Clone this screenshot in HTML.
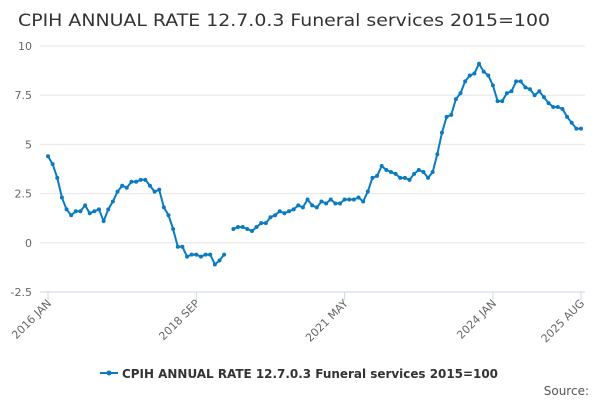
<!DOCTYPE html>
<html><head><meta charset="utf-8"><style>
body{margin:0;background:#fff;font-family:"DejaVu Sans","Liberation Sans",sans-serif;}
</style></head><body>
<svg width="600" height="400" xmlns="http://www.w3.org/2000/svg" font-family="DejaVu Sans, Liberation Sans, sans-serif">
<text x="18" y="26" font-size="17" fill="#333" textLength="532" lengthAdjust="spacingAndGlyphs">CPIH ANNUAL RATE 12.7.0.3 Funeral services 2015=100</text>
<g id="grid"></g><g id="xaxis"></g><g id="series"></g>
<g>
<line x1="100" y1="373" x2="118" y2="373" stroke="#0a7bc1" stroke-width="2"/>
<circle cx="109" cy="373" r="2.5" fill="#0a7bc1"/>
<text x="122" y="378" font-size="12" font-weight="bold" fill="#333" textLength="376" lengthAdjust="spacingAndGlyphs">CPIH ANNUAL RATE 12.7.0.3 Funeral services 2015=100</text>
</g>
<text x="589" y="395" font-size="12" fill="#555" text-anchor="end">Source:</text>
</svg>
<script>
const values=[4.4,4.0,3.3,2.3,1.7,1.4,1.6,1.6,1.9,1.5,1.6,1.7,1.1,1.7,2.1,2.6,2.9,2.8,3.1,3.1,3.2,3.2,2.9,2.6,2.7,1.8,1.4,0.7,-0.2,-0.2,-0.7,-0.6,-0.6,-0.7,-0.6,-0.6,-1.1,-0.9,-0.6,null,
0.7,0.8,0.8,0.7,0.6,0.8,1.0,1.0,1.3,1.4,1.6,1.5,1.6,1.7,1.9,1.8,2.2,1.9,1.8,2.1,2.0,2.2,2.0,2.0,2.2,2.2,2.2,2.3,2.1,2.6,3.3,3.4,3.9,3.7,3.6,3.5,3.3,3.3,3.2,3.5,3.7,3.6,3.3,3.6,4.5,5.6,6.4,6.5,7.3,7.6,8.2,8.5,8.6,9.1,8.7,8.5,8.0,7.2,7.2,7.6,7.7,8.2,8.2,7.9,7.8,7.5,7.7,7.4,7.1,6.9,6.9,6.8,6.4,6.1,5.8,5.8];
const yTicks=[10,7.5,5,2.5,0,-2.5];
const yTickLabels=["10","7.5","5","2.5","0","-2.5"];
const xTickIdx=[0,32,64,96,115];
const xTickLabels=["2016 JAN","2018 SEP","2021 MAY","2024 JAN","2025 AUG"];
const NS="http://www.w3.org/2000/svg";
const x0=48,x1=581,yTop=46,yBot=292,vMax=10,vMin=-2.5;
const xs=i=>x0+(x1-x0)*i/(values.length-1);
const ys=v=>yTop+(vMax-v)*(yBot-yTop)/(vMax-vMin);
function mk(t,a,p){const e=document.createElementNS(NS,t);for(const k in a)e.setAttribute(k,a[k]);p.appendChild(e);return e;}
const grid=document.getElementById('grid');
yTicks.forEach((v,i)=>{
 const l=mk('line',{x1:40,x2:585,y1:ys(v),y2:ys(v),stroke:i==yTicks.length-1?'#ccd6eb':'#e6e6e6'},grid);
 
 
 const t=mk('text',{x:32,y:ys(v)+4,'font-size':11,fill:'#666','text-anchor':'end'},grid);
 t.textContent=yTickLabels[i];
 
 
});
const xa=document.getElementById('xaxis');
xTickIdx.forEach((idx,i)=>{
 const x=xs(idx);
 const l=mk('line',{x1:x,x2:x,y1:yBot,y2:yBot+8,stroke:'#ccd6eb'},xa);
 
 
 const t=mk('text',{x:x+4,y:yBot+12,'font-size':11,fill:'#666','text-anchor':'end',transform:`rotate(-45 ${x+4} ${yBot+12})`},xa);
 t.textContent=xTickLabels[i];
 
 
});
const s=document.getElementById('series');
let d='',pen=false;
values.forEach((v,i)=>{if(v===null){pen=false;return;}d+=(pen?'L':'M')+xs(i).toFixed(1)+' '+ys(v).toFixed(1);pen=true;});
const p=mk('path',{d:d,fill:'none',stroke:'#0a7bc1','stroke-width':2,'stroke-linejoin':'round'},s);


values.forEach((v,i)=>{if(v===null)return;
 const c=mk('circle',{cx:xs(i),cy:ys(v),r:2,fill:'#0a7bc1'},s);
 
 
});
</script>
</body></html>
